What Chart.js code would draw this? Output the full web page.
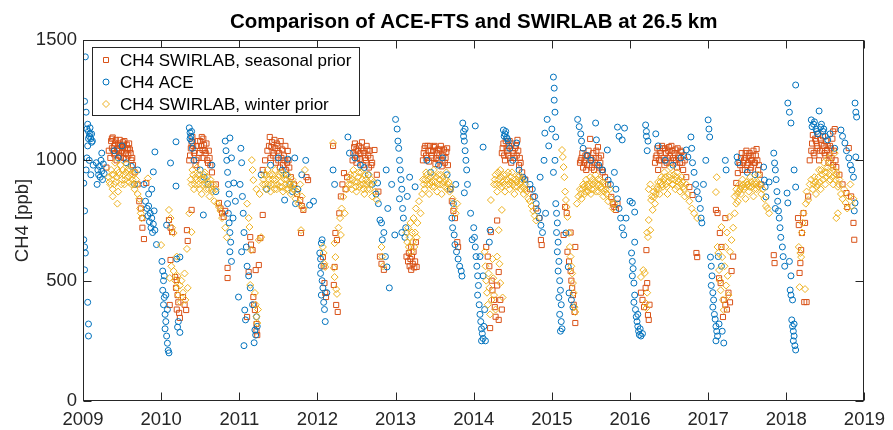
<!DOCTYPE html>
<html>
<head>
<meta charset="utf-8">
<script src="https://cdn.jsdelivr.net/npm/chart.js@4.4.1/dist/chart.umd.min.js"></script>
<style>
  html, body { margin: 0; padding: 0; background: #fff; }
  #wrap { width: 893px; height: 430px; }
</style>
</head>
<body>
<div id="wrap"><canvas id="c" width="893" height="430"></canvas></div>
<script>
// tick labels
const yearTicks = [2009, 2010, 2011, 2012, 2013, 2014, 2015, 2016, 2017, 2018, 2019];
const ppbTicks = [0, 500, 1000, 1500];

// [decimal year, CH4 ppb]
const aceFts = [
  [2009.03,1430],[2009.02,1245],[2009.04,1200],[2009.06,1150],[2009.07,1120],[2009.08,1100],[2009.09,1135],[2009.10,1090],[2009.11,1110],[2009.12,1080],[2009.06,1060],[2009.05,1010],[2009.04,960],[2009.08,1000],[2009.10,940],[2009.13,980],[2009.01,905],[2009.02,790],[2009.01,670],[2009.02,640],[2009.03,615],[2009.02,545],[2009.06,410],[2009.07,320],[2009.07,270],
  [2009.05,1130],[2009.07,1090],[2009.09,1110],[2009.11,1075],
  [2009.17,990],[2009.19,960],[2009.20,940],[2009.21,975],[2009.22,930],[2009.23,1000],[2009.24,955],[2009.25,920],[2009.26,985],[2009.27,945],[2009.18,900],[2009.24,1030],
  [2009.40,1040],[2009.45,1010],[2009.50,1060],[2009.55,990],[2009.62,975],[2009.70,960],[2009.66,900],
  [2009.78,900],[2009.80,830],[2009.82,800],[2009.83,770],[2009.84,810],[2009.84,860],[2009.85,745],[2009.86,780],[2009.87,720],[2009.88,760],[2009.88,880],[2009.89,700],[2009.90,735],[2009.90,952],[2009.91,790],[2009.92,710],[2009.92,1035],[2009.94,650],
  [2010.01,580],[2010.02,540],[2010.03,500],[2010.02,460],[2010.04,430],[2010.03,400],[2010.05,360],[2010.06,330],[2010.05,300],[2010.07,270],[2010.08,240],[2010.09,210],[2010.10,200],[2010.06,440],[2010.08,380],[2010.04,520],[2010.07,731],[2010.12,989],[2010.19,1077],[2010.19,893],[2010.20,590],[2010.22,330],[2010.24,285],[2010.21,307],[2010.24,598],
  [2010.36,1135],[2010.37,1115],[2010.38,1100],[2010.39,1080],[2010.37,1090],[2010.39,1120],[2010.40,1050],[2010.42,1000],[2010.50,960],[2010.55,930],[2010.54,773],[2010.60,900],[2010.65,980],[2010.70,870],
  [2010.82,1080],[2010.83,1040],[2010.84,1000],[2010.85,950],[2010.86,900],[2010.87,860],[2010.85,820],[2010.86,780],[2010.87,740],[2010.88,700],[2010.89,660],[2010.88,620],[2010.90,580],[2010.88,1093],[2010.90,1010],[2010.93,906],[2010.92,760],[2010.95,830],
  [2010.99,432],[2011.01,900],[2011.02,1050],[2011.03,990],[2011.04,850],[2011.05,780],[2011.06,700],[2011.03,620],[2011.07,378],[2011.08,337],[2011.06,230],[2011.09,640],[2011.10,560],[2011.12,520],[2011.14,470],[2011.17,400],[2011.20,295],[2011.21,274],[2011.19,242],[2011.22,350],[2011.23,310],
  [2011.28,940],[2011.35,880],[2011.40,980],[2011.50,1010],[2011.55,960],[2011.58,835],[2011.60,940],[2011.62,1005],[2011.65,900],[2011.68,870],[2011.71,1010],[2011.72,820],[2011.75,880],[2011.80,940],[2011.85,1000],[2011.90,814],[2011.95,830],
  [2012.03,615],[2012.04,590],[2012.05,560],[2012.04,530],[2012.06,500],[2012.07,470],[2012.05,440],[2012.08,410],[2012.09,380],[2012.10,330],[2012.06,670],[2012.05,656],[2012.12,450],
  [2012.20,960],[2012.22,900],[2012.39,1097],[2012.41,1030],[2012.48,1010],[2012.55,980],[2012.60,970],[2012.65,940],[2012.70,900],[2012.75,860],[2012.77,906],[2012.78,820],[2012.80,752],[2012.82,740],[2012.85,700],[2012.83,670],[2012.87,600],[2012.89,557],[2012.90,800],[2012.92,470],[2012.88,960],[2012.95,900],[2012.99,690],
  [2013.00,1170],[2013.02,1130],[2013.03,1080],[2013.04,1050],[2013.05,1000],[2013.06,960],[2013.07,920],[2013.08,880],[2013.05,840],[2013.09,800],[2013.10,760],[2013.08,700],[2013.12,680],[2013.13,720],[2013.15,850],[2013.18,930],[2013.25,890],
  [2013.40,1000],[2013.45,950],[2013.55,980],[2013.60,1010],[2013.66,940],[2013.70,880],[2013.72,760],[2013.73,720],[2013.75,690],[2013.76,650],[2013.78,620],[2013.80,590],[2013.82,560],[2013.84,540],[2013.85,519],[2013.74,820],[2013.77,900],[2013.86,1155],[2013.87,1120],[2013.87,1100],[2013.88,1080],[2013.89,1130],[2013.89,1040],[2013.90,1000],[2013.91,960],[2013.92,900],[2013.88,865],[2013.96,780],[2013.98,670],
  [2014.00,720],[2014.01,680],[2014.02,640],[2014.03,600],[2014.04,560],[2014.05,520],[2014.06,480],[2014.05,440],[2014.07,400],[2014.08,360],[2014.09,330],[2014.10,300],[2014.11,280],[2014.12,260],[2014.10,250],[2014.13,310],[2014.14,380],[2014.08,600],[2014.12,520],[2014.15,250],[2014.02,1143],[2014.12,1055],[2014.20,660],[2014.21,710],
  [2014.38,1126],[2014.39,1100],[2014.40,1110],[2014.41,1120],[2014.42,1095],[2014.43,1090],[2014.44,1080],[2014.46,1050],[2014.50,1000],[2014.55,1072],[2014.58,960],[2014.63,930],[2014.65,920],[2014.72,900],[2014.75,880],[2014.78,850],[2014.80,820],[2014.82,790],[2014.84,760],[2014.86,730],[2014.88,700],[2014.85,930],[2014.90,1000],[2014.91,1113],[2014.94,1170],[2014.96,1060],[2015.00,1130],[2014.92,780],
  [2015.02,1346],[2015.03,1300],[2015.03,1250],[2015.04,1200],[2015.05,1097],[2015.04,1000],[2015.02,950],[2015.05,820],[2015.06,780],[2015.07,740],[2015.06,700],[2015.08,660],[2015.07,620],[2015.09,580],[2015.08,540],[2015.10,500],[2015.11,460],[2015.09,430],[2015.12,400],[2015.10,360],[2015.12,330],[2015.13,300],[2015.11,290],[2015.22,449],[2015.25,420],[2015.27,390],[2015.18,698],[2015.21,557],
  [2015.33,1170],[2015.35,1140],[2015.37,1110],[2015.38,1080],[2015.40,1050],[2015.45,1020],[2015.50,1000],[2015.56,1155],[2015.57,1085],[2015.60,980],[2015.65,960],[2015.71,1043],[2015.72,918],[2015.75,900],[2015.80,950],[2015.84,1138],[2015.86,1100],[2015.90,1085],[2015.93,1134],[2015.82,880],[2015.84,840],[2015.86,800],[2015.88,760],[2015.90,720],[2015.92,690],[2015.95,760],[2016.00,830],[2016.03,823],[2016.06,785],
  [2016.02,615],[2016.03,580],[2016.04,550],[2016.03,520],[2016.05,490],[2016.06,440],[2016.05,410],[2016.07,380],[2016.08,350],[2016.09,330],[2016.10,310],[2016.11,290],[2016.12,275],[2016.13,300],[2016.14,270],[2016.10,360],[2016.16,280],[2016.06,660],[2016.20,1147],[2016.21,1100],[2016.21,1120],[2016.22,1040],[2016.23,1080],
  [2016.33,1110],[2016.36,1060],[2016.45,1000],[2016.55,980],[2016.65,1010],[2016.72,1043],[2016.74,1014],[2016.78,1097],[2016.79,1050],[2016.80,990],[2016.82,950],[2016.84,900],[2016.86,870],[2016.88,840],[2016.90,800],[2016.91,760],[2016.92,740],[2016.94,900],[2016.97,1000],[2017.00,1168],[2017.01,1130],[2017.02,1097],
  [2017.03,598],[2017.04,560],[2017.05,520],[2017.04,480],[2017.06,450],[2017.07,420],[2017.06,390],[2017.08,360],[2017.09,340],[2017.10,310],[2017.11,290],[2017.12,270],[2017.10,250],[2017.14,320],[2017.17,560],[2017.20,241],[2017.18,290],[2017.13,600],
  [2017.22,1000],[2017.23,960],[2017.37,1014],[2017.38,990],[2017.50,950],[2017.60,940],[2017.71,972],[2017.72,918],[2017.73,889],[2017.74,848],[2017.78,910],[2017.84,1030],[2017.85,989],[2017.86,960],[2017.87,920],[2017.88,870],[2017.89,830],[2017.90,790],[2017.91,760],[2017.92,720],[2017.93,680],[2017.95,640],[2017.96,600],[2017.98,560],[2017.86,800],
  [2018.02,1238],[2018.04,1200],[2018.06,1155],[2018.12,1313],[2018.01,864],[2018.02,823],[2018.10,960],[2018.12,889],[2018.05,461],[2018.06,440],[2018.08,420],[2018.07,337],[2018.08,310],[2018.09,290],[2018.10,270],[2018.09,250],[2018.11,230],[2018.12,212],[2018.10,320],[2018.06,520],[2018.04,580],
  [2018.32,1168],[2018.33,1140],[2018.35,1150],[2018.36,1160],[2018.38,1130],[2018.39,1120],[2018.40,1110],[2018.42,1205],[2018.44,1138],[2018.45,1150],[2018.47,1120],[2018.48,1130],[2018.50,1100],[2018.53,1085],[2018.56,1110],[2018.62,1050],[2018.70,1126],[2018.72,1100],[2018.75,1072],[2018.77,1040],[2018.80,1010],[2018.82,980],[2018.84,960],[2018.86,930],[2018.88,1238],[2018.89,1200],[2018.90,1180],[2018.89,1014],[2018.88,823],[2018.87,790]
];

const swirSeasonal = [
  [2009.30,970],[2009.33,1040],[2009.36,1080],[2009.37,1050],[2009.38,1095],[2009.40,1060],[2009.41,1030],[2009.42,1085],[2009.44,1045],[2009.45,1070],[2009.46,1020],[2009.48,1060],[2009.50,1040],[2009.51,1075],[2009.52,1010],[2009.54,1050],[2009.55,1030],[2009.56,1065],[2009.58,1020],[2009.60,1045],[2009.62,1000],[2009.64,980],[2009.66,950],[2009.70,900],[2009.72,830],[2009.74,800],[2009.76,760],[2009.76,720],[2009.78,673],[2009.81,906],
  [2009.35,1010],[2009.37,1090],[2009.39,1040],[2009.41,1070],[2009.43,1000],[2009.45,1050],[2009.47,1085],[2009.49,1030],[2009.51,1055],[2009.53,1080],[2009.55,1005],[2009.57,1045],[2009.59,1070],[2009.61,1030],[2009.63,1010],[2009.40,1025],[2009.46,1040],[2009.52,1065],[2009.58,1050],[2009.48,1015],
  [2010.10,752],[2010.12,720],[2010.14,702],[2010.12,586],[2010.18,515],[2010.20,503],[2010.19,470],[2010.21,440],[2010.22,410],[2010.20,380],[2010.23,366],[2010.11,399],[2010.24,345],[2010.28,432],[2010.30,400],[2010.32,378],[2010.33,710],[2010.34,665],[2010.39,794],
  [2010.36,1000],[2010.38,1050],[2010.40,1097],[2010.42,1030],[2010.44,980],[2010.46,1060],[2010.48,1010],[2010.50,1080],[2010.52,1097],[2010.53,1043],[2010.55,1064],[2010.57,1030],[2010.60,989],[2010.62,1010],[2010.65,950],[2010.70,900],[2010.74,823],[2010.76,800],[2010.78,780],[2010.80,765],[2010.82,790],[2010.85,553],[2010.85,511],
  [2010.37,1020],[2010.39,1070],[2010.41,1060],[2010.43,1040],[2010.45,1000],[2010.47,1080],[2010.49,1030],[2010.51,1060],[2010.53,1010],[2010.54,1090],[2010.56,1040],[2010.58,1070],[2010.59,1000],[2010.61,1040],[2010.63,980],
  [2011.10,349],[2011.12,536],[2011.14,681],[2011.15,650],[2011.17,627],[2011.18,432],[2011.19,400],[2011.20,378],[2011.21,544],[2011.22,320],[2011.23,274],[2011.22,290],[2011.25,565],[2011.27,677],[2011.30,773],
  [2011.30,960],[2011.33,1000],[2011.36,1040],[2011.39,1097],[2011.41,1055],[2011.43,1020],[2011.45,1085],[2011.47,990],[2011.49,1040],[2011.50,1060],[2011.52,970],[2011.54,1010],[2011.56,980],[2011.58,1000],[2011.60,960],[2011.62,1039],[2011.66,930],[2011.70,900],[2011.74,860],[2011.78,835],[2011.80,810],[2011.82,794],[2011.79,698],[2011.86,930],[2011.88,918],
  [2011.38,1060],[2011.40,1010],[2011.42,1075],[2011.44,1030],[2011.46,1050],[2011.48,1070],[2011.50,1000],[2011.51,1030],[2011.53,1080],[2011.55,1045],[2011.57,1020],[2011.59,1060],[2011.61,990],[2011.63,1000],[2011.64,970],
  [2012.07,598],[2012.08,560],[2012.09,490],[2012.10,449],[2012.11,432],[2012.20,1060],[2012.21,482],[2012.22,557],[2012.24,399],[2012.26,370],[2012.23,698],[2012.25,669],[2012.28,780],[2012.30,850],[2012.32,900],[2012.34,947],[2012.36,880],[2012.38,930],
  [2012.45,1000],[2012.47,1055],[2012.49,1020],[2012.50,990],[2012.52,1040],[2012.54,1005],[2012.56,1050],[2012.58,980],[2012.60,1030],[2012.62,1000],[2012.64,1045],[2012.66,970],[2012.68,1010],[2012.70,990],[2012.73,1043],[2012.76,940],[2012.78,870],[2012.80,600],[2012.82,570],[2012.85,545],
  [2012.46,1030],[2012.48,1070],[2012.50,1045],[2012.51,1010],[2012.53,1060],[2012.55,1030],[2012.57,1075],[2012.59,1040],[2012.61,1010],[2012.63,1060],[2012.65,1020],[2012.67,1040],[2012.69,980],
  [2013.14,600],[2013.16,580],[2013.17,615],[2013.18,560],[2013.19,590],[2013.20,545],[2013.21,600],[2013.22,570],[2013.23,620],[2013.24,555],[2013.25,580],[2013.27,557],[2013.20,640],[2013.26,660],
  [2013.35,1000],[2013.37,1050],[2013.39,1020],[2013.41,1060],[2013.43,995],[2013.45,1040],[2013.47,1010],[2013.49,1055],[2013.51,985],[2013.53,1030],[2013.55,1000],[2013.57,1045],[2013.59,975],[2013.61,1020],[2013.63,990],[2013.65,1035],[2013.67,980],[2013.70,880],[2013.72,830],[2013.74,790],[2013.76,760],[2013.79,660],[2013.80,640],
  [2013.36,1030],[2013.38,1060],[2013.40,1010],[2013.42,1040],[2013.44,1060],[2013.46,1020],[2013.48,1040],[2013.50,1060],[2013.52,1010],[2013.54,1045],[2013.56,1020],[2013.58,1060],[2013.60,1000],[2013.62,1045],[2013.64,1010],[2013.66,1050],
  [2014.16,640],[2014.18,600],[2014.20,560],[2014.21,303],[2014.22,702],[2014.23,500],[2014.24,460],[2014.26,420],[2014.27,390],[2014.28,350],[2014.30,480],[2014.32,337],[2014.32,536],[2014.34,420],[2014.36,380],[2014.30,750],
  [2014.36,1030],[2014.38,1070],[2014.40,1000],[2014.42,1050],[2014.44,1020],[2014.46,1080],[2014.48,990],[2014.50,1040],[2014.52,1010],[2014.54,1060],[2014.56,1085],[2014.58,980],[2014.62,950],[2014.66,920],[2014.72,880],[2014.76,848],[2014.80,800],[2014.84,760],[2014.86,669],[2014.87,648],
  [2014.37,1050],[2014.39,1020],[2014.41,1080],[2014.43,1040],[2014.45,1060],[2014.47,1010],[2014.49,1070],[2014.51,1030],[2014.53,1050],[2014.55,1020],[2014.57,1040],[2014.59,1010],[2014.60,990],
  [2015.15,690],[2015.17,806],[2015.19,781],[2015.20,620],[2015.22,580],[2015.24,540],[2015.25,500],[2015.26,470],[2015.27,440],[2015.28,400],[2015.29,370],[2015.30,324],[2015.30,640],[2015.24,700],
  [2015.36,990],[2015.38,1010],[2015.40,970],[2015.42,1000],[2015.44,960],[2015.46,1020],[2015.48,980],[2015.49,1089],[2015.52,1000],[2015.54,960],[2015.56,1010],[2015.58,980],[2015.59,1055],[2015.62,990],[2015.65,950],[2015.68,930],[2015.72,900],[2015.76,848],[2015.78,820],[2015.80,806],[2015.82,794],[2015.84,820],
  [2015.37,1000],[2015.39,1030],[2015.41,990],[2015.43,1020],[2015.45,980],[2015.47,1040],[2015.50,1010],[2015.51,970],[2015.53,1030],[2015.55,990],[2015.57,1040],[2015.60,1010],[2015.61,970],[2015.63,1020],[2015.64,960],
  [2016.14,450],[2016.16,420],[2016.18,390],[2016.20,470],[2016.21,627],[2016.22,490],[2016.23,357],[2016.24,337],[2016.25,400],
  [2016.32,990],[2016.34,1020],[2016.36,960],[2016.38,1040],[2016.40,1000],[2016.42,1050],[2016.44,980],[2016.46,1030],[2016.48,1010],[2016.50,1055],[2016.52,990],[2016.54,1040],[2016.56,1000],[2016.58,1045],[2016.60,970],[2016.62,1020],[2016.64,990],[2016.66,1035],[2016.68,960],[2016.70,1000],[2016.72,930],[2016.76,889],[2016.80,856],[2016.85,615],[2016.86,598],
  [2016.33,1010],[2016.35,1050],[2016.37,1000],[2016.39,1030],[2016.41,1060],[2016.43,1010],[2016.45,1050],[2016.47,990],[2016.49,1040],[2016.51,1020],[2016.53,1060],[2016.55,1010],[2016.57,1030],[2016.59,1000],[2016.61,1050],[2016.63,1010],[2016.65,1040],[2016.67,990],[2016.69,1020],
  [2017.10,794],[2017.12,781],[2017.15,698],[2017.17,640],[2017.14,510],[2017.16,490],[2017.19,349],[2017.20,420],[2017.22,400],[2017.24,380],[2017.26,450],[2017.28,410],[2017.30,540],[2017.32,600],[2017.22,760],
  [2017.36,906],[2017.38,947],[2017.40,990],[2017.42,1010],[2017.44,960],[2017.46,1000],[2017.48,1030],[2017.50,980],[2017.52,1018],[2017.54,960],[2017.56,1001],[2017.58,1040],[2017.60,990],[2017.62,1047],[2017.64,960],[2017.66,940],[2017.68,900],[2017.84,606],[2017.85,573],
  [2017.41,980],[2017.43,1030],[2017.45,990],[2017.47,1010],[2017.49,1040],[2017.51,990],[2017.53,1030],[2017.55,1000],[2017.57,1020],[2017.59,990],[2017.61,1020],[2017.63,1000],[2017.65,980],[2017.47,960],[2017.55,970],
  [2018.15,760],[2018.16,731],[2018.17,532],[2018.18,573],[2018.19,627],[2018.20,698],[2018.22,781],[2018.23,411],[2018.26,411],[2018.24,740],[2018.28,850],
  [2018.30,1000],[2018.32,1040],[2018.34,1105],[2018.36,1020],[2018.38,1080],[2018.40,1050],[2018.42,1000],[2018.44,1085],[2018.46,1040],[2018.48,1060],[2018.50,1020],[2018.52,1043],[2018.54,990],[2018.56,1060],[2018.58,1010],[2018.60,980],[2018.62,1130],[2018.64,972],[2018.68,940],[2018.72,900],[2018.77,864],[2018.78,806],[2018.80,1051],[2018.83,850],[2018.86,740],[2018.87,670],
  [2018.33,1070],[2018.35,1030],[2018.37,1090],[2018.39,1060],[2018.41,1110],[2018.43,1040],[2018.45,1070],[2018.47,1100],[2018.49,1030],[2018.51,1080],[2018.53,1060],[2018.55,1020],[2018.57,1050],[2018.59,1090],[2018.61,1040],[2018.63,1000],[2018.60,1120]
];

const swirWinter = [
  [2009.33,930],[2009.35,900],[2009.36,960],[2009.38,880],[2009.38,850],[2009.39,940],[2009.41,990],[2009.42,910],[2009.44,960],[2009.44,820],[2009.45,870],[2009.47,940],[2009.48,980],[2009.50,920],[2009.51,960],[2009.53,900],[2009.55,950],[2009.56,985],[2009.58,930],[2009.60,960],[2009.62,900],[2009.64,940],[2009.66,880],[2009.68,920],[2009.70,860],[2009.72,840],[2009.73,800],[2009.74,780],[2009.75,760],[2009.83,925],
  [2009.34,910],[2009.37,940],[2009.40,900],[2009.43,930],[2009.46,950],[2009.49,900],[2009.52,940],[2009.54,920],[2009.57,960],[2009.59,910],[2009.61,940],[2009.63,920],[2009.65,900],[2009.67,950],[2009.69,900],
  [2010.00,648],[2010.10,794],[2010.12,760],[2010.14,720],[2010.16,698],[2010.11,511],[2010.13,560],[2010.16,540],[2010.18,500],[2010.20,470],[2010.21,520],[2010.22,440],[2010.24,480],[2010.25,410],[2010.26,500],[2010.28,450],[2010.30,530],[2010.31,420],[2010.33,632],[2010.34,470],[2010.39,702],[2010.36,780],[2010.20,600],
  [2010.38,920],[2010.40,960],[2010.42,880],[2010.44,930],[2010.46,970],[2010.48,900],[2010.50,940],[2010.52,860],[2010.54,920],[2010.56,950],[2010.58,880],[2010.60,910],[2010.62,850],[2010.64,900],[2010.66,870],[2010.68,830],[2010.70,880],[2010.72,820],[2010.74,806],[2010.76,790],[2010.78,760],[2010.82,720],[2010.84,680],
  [2010.39,900],[2010.41,940],[2010.43,900],[2010.45,920],[2010.47,940],[2010.49,880],[2010.51,920],[2010.53,900],[2010.55,940],[2010.57,900],[2010.59,930],[2010.61,880],[2010.63,920],[2010.65,880],[2010.67,900],
  [2011.10,820],[2011.12,760],[2011.13,723],[2011.14,482],[2011.15,627],[2011.16,1001],[2011.17,960],[2011.18,918],[2011.20,449],[2011.21,400],[2011.22,350],[2011.23,324],[2011.24,380],[2011.25,669],[2011.28,681],[2011.26,860],[2011.22,880],
  [2011.30,900],[2011.32,940],[2011.34,880],[2011.36,960],[2011.38,920],[2011.40,870],[2011.42,940],[2011.44,900],[2011.46,960],[2011.48,880],[2011.50,930],[2011.52,890],[2011.54,950],[2011.56,870],[2011.58,920],[2011.60,880],[2011.62,940],[2011.64,900],[2011.66,860],[2011.68,920],[2011.70,880],[2011.72,840],[2011.74,870],[2011.76,820],[2011.78,900],[2011.80,850],[2011.82,800],[2011.84,960],[2011.79,710],
  [2011.31,920],[2011.33,900],[2011.35,940],[2011.37,900],[2011.39,940],[2011.41,900],[2011.43,920],[2011.45,880],[2011.47,920],[2011.49,900],[2011.51,940],[2011.53,910],[2011.55,890],[2011.57,940],[2011.59,900],[2011.61,920],[2011.63,880],[2011.65,910],[2011.67,890],[2011.69,900],
  [2012.07,640],[2012.08,615],[2012.09,570],[2012.10,557],[2012.20,1072],[2012.21,553],[2012.22,515],[2012.23,598],[2012.24,465],[2012.25,445],[2012.22,656],[2012.27,720],[2012.29,760],[2012.31,800],[2012.33,848],[2012.35,780],[2012.37,880],[2012.30,690],
  [2012.40,900],[2012.42,940],[2012.44,880],[2012.46,960],[2012.48,910],[2012.50,870],[2012.52,930],[2012.54,890],[2012.56,950],[2012.58,900],[2012.60,860],[2012.62,920],[2012.64,880],[2012.66,940],[2012.68,900],[2012.70,850],[2012.72,910],[2012.74,870],[2012.76,835],[2012.82,640],[2012.83,600],[2012.84,560],
  [2012.41,920],[2012.43,900],[2012.45,920],[2012.47,940],[2012.49,890],[2012.51,910],[2012.53,950],[2012.55,900],[2012.57,920],[2012.59,880],[2012.61,940],[2012.63,900],[2012.65,910],[2012.67,880],[2012.69,920],
  [2013.14,700],[2013.15,660],[2013.16,720],[2013.17,640],[2013.18,680],[2013.19,740],[2013.20,620],[2013.21,700],[2013.22,660],[2013.23,760],[2013.24,640],[2013.25,700],[2013.26,800],[2013.27,680],[2013.28,740],[2013.30,830],[2013.32,780],[2013.34,860],
  [2013.35,920],[2013.37,880],[2013.39,950],[2013.41,900],[2013.43,860],[2013.45,930],[2013.47,890],[2013.49,960],[2013.51,910],[2013.53,870],[2013.55,940],[2013.57,900],[2013.59,860],[2013.61,930],[2013.63,890],[2013.65,950],[2013.67,900],[2013.69,870],[2013.71,890],[2013.73,840],[2013.75,800],[2013.77,780],[2013.79,820],
  [2013.36,900],[2013.38,920],[2013.40,940],[2013.42,920],[2013.44,900],[2013.46,910],[2013.48,940],[2013.50,890],[2013.52,930],[2013.54,900],[2013.56,920],[2013.58,940],[2013.60,900],[2013.62,910],[2013.64,920],[2013.66,880],[2013.68,910],
  [2014.14,620],[2014.15,560],[2014.16,500],[2014.17,450],[2014.18,400],[2014.19,530],[2014.20,470],[2014.21,360],[2014.22,835],[2014.23,420],[2014.24,590],[2014.25,510],[2014.26,440],[2014.28,380],[2014.30,600],[2014.32,710],[2014.33,570],[2014.34,490],[2014.36,794],[2014.37,430],
  [2014.26,900],[2014.28,940],[2014.30,870],[2014.32,920],[2014.34,960],[2014.36,890],[2014.38,940],[2014.40,870],[2014.42,910],[2014.44,950],[2014.46,880],[2014.48,930],[2014.50,900],[2014.52,860],[2014.54,920],[2014.56,890],[2014.58,940],[2014.60,880],[2014.62,920],[2014.64,860],[2014.66,900],[2014.68,870],[2014.70,840],[2014.72,830],[2014.74,810],[2014.76,790],[2014.78,770],[2014.80,750],
  [2014.27,920],[2014.29,900],[2014.31,950],[2014.33,900],[2014.35,930],[2014.37,910],[2014.39,900],[2014.41,940],[2014.43,920],[2014.45,900],[2014.47,910],[2014.49,950],[2014.51,920],[2014.53,890],[2014.55,910],[2014.57,930],[2014.59,900],[2014.61,910],[2014.63,890],[2014.65,880],
  [2015.13,1043],[2015.14,1014],[2015.15,972],[2015.16,930],[2015.17,870],[2015.18,835],[2015.19,806],[2015.20,765],[2015.22,698],[2015.23,640],[2015.24,600],[2015.25,560],[2015.26,530],[2015.27,490],[2015.28,449],[2015.29,390],[2015.30,370],
  [2015.32,820],[2015.34,850],[2015.36,880],[2015.38,840],[2015.40,900],[2015.42,860],[2015.44,920],[2015.46,870],[2015.48,900],[2015.50,860],[2015.52,920],[2015.54,880],[2015.56,940],[2015.58,900],[2015.60,870],[2015.62,920],[2015.64,880],[2015.66,850],[2015.68,900],[2015.70,860],[2015.72,830],[2015.74,880],[2015.76,840],[2015.78,800],[2015.80,820],
  [2015.37,860],[2015.39,880],[2015.41,890],[2015.43,870],[2015.45,900],[2015.47,890],[2015.49,930],[2015.51,880],[2015.53,900],[2015.55,910],[2015.57,870],[2015.59,920],[2015.61,900],[2015.63,890],[2015.65,910],[2015.67,870],[2015.69,880],
  [2016.14,515],[2016.17,544],[2016.19,532],[2016.20,407],[2016.21,386],[2016.22,700],[2016.23,681],[2016.24,752],[2016.26,710],[2016.27,835],[2016.29,794],[2016.31,848],[2016.22,450],
  [2016.24,880],[2016.26,900],[2016.28,850],[2016.30,870],[2016.32,820],[2016.34,880],[2016.36,910],[2016.38,860],[2016.40,930],[2016.42,890],[2016.44,950],[2016.46,900],[2016.48,860],[2016.50,930],[2016.52,970],[2016.54,900],[2016.56,940],[2016.58,880],[2016.60,950],[2016.62,910],[2016.64,870],[2016.66,930],[2016.68,890],[2016.70,850],[2016.72,900],[2016.74,860],[2016.76,830],[2016.79,800],[2016.82,780],[2016.86,760],
  [2016.33,860],[2016.35,890],[2016.37,880],[2016.39,910],[2016.41,900],[2016.43,920],[2016.45,930],[2016.47,890],[2016.49,910],[2016.51,940],[2016.53,920],[2016.55,900],[2016.57,920],[2016.59,930],[2016.61,890],[2016.63,920],[2016.65,900],[2016.67,910],[2016.69,880],
  [2017.10,868],[2017.11,930],[2017.12,640],[2017.13,615],[2017.14,544],[2017.15,500],[2017.16,460],[2017.17,723],[2017.18,598],[2017.19,420],[2017.20,378],[2017.21,560],[2017.22,640],[2017.23,480],[2017.24,700],[2017.25,520],[2017.26,440],[2017.27,765],[2017.28,620],[2017.30,669],[2017.32,720],[2017.34,780],[2017.36,820],
  [2017.34,850],[2017.36,880],[2017.38,830],[2017.40,900],[2017.42,860],[2017.44,920],[2017.46,880],[2017.48,840],[2017.50,900],[2017.52,870],[2017.54,930],[2017.56,890],[2017.58,850],[2017.60,910],[2017.62,880],[2017.64,940],[2017.66,900],[2017.68,860],[2017.70,880],[2017.72,840],[2017.74,810],[2017.76,800],[2017.78,780],
  [2017.37,860],[2017.39,870],[2017.41,880],[2017.43,890],[2017.45,900],[2017.47,890],[2017.49,910],[2017.51,900],[2017.53,890],[2017.55,910],[2017.57,900],[2017.59,880],[2017.61,900],[2017.63,910],[2017.65,890],
  [2018.16,640],[2018.17,473],[2018.18,615],[2018.19,598],[2018.20,700],[2018.21,740],[2018.22,780],[2018.24,465],[2018.25,820],[2018.26,870],[2018.28,835],[2018.30,900],[2018.32,920],
  [2018.34,880],[2018.36,930],[2018.38,860],[2018.40,900],[2018.42,960],[2018.44,880],[2018.46,940],[2018.48,990],[2018.50,900],[2018.52,950],[2018.54,1010],[2018.56,920],[2018.58,970],[2018.60,900],[2018.62,1030],[2018.64,940],[2018.64,760],[2018.66,890],[2018.66,780],[2018.68,920],[2018.70,860],[2018.72,840],[2018.74,880],[2018.76,823],[2018.78,800],[2018.80,850],[2018.82,900],[2018.84,810],[2018.86,840],
  [2018.35,900],[2018.37,910],[2018.39,890],[2018.41,930],[2018.43,910],[2018.45,960],[2018.47,920],[2018.49,950],[2018.51,930],[2018.53,970],[2018.55,940],[2018.57,990],[2018.59,930],[2018.61,960],[2018.63,920],[2018.65,950],[2018.67,900]
];

const BLUE = '#0072BD', ORANGE = '#D95319', YELLOW = '#EDB120', AXIS = '#262626';
const FONT = '"Liberation Sans", Arial, Helvetica, sans-serif';

const toXY = arr => arr.map(([t, v]) => ({ x: t, y: v }));

// axes box, inside ticks, title, y label and the legend
const matlabFrame = {
  id: 'matlabFrame',
  afterDatasetsDraw(chart) {
    const { ctx, chartArea: a, scales } = chart;
    const L = Math.round(a.left) + 0.5, R = Math.round(a.right) - 0.5;
    const T = Math.round(a.top) + 0.5, B = Math.round(a.bottom) - 0.5;
    ctx.save();
    ctx.strokeStyle = AXIS;
    ctx.lineWidth = 1;
    ctx.strokeRect(L, T, R - L, B - T);
    const tl = 8;
    ctx.beginPath();
    yearTicks.forEach(v => {
      const px = Math.round(scales.x.getPixelForValue(v)) + 0.5;
      ctx.moveTo(px, B); ctx.lineTo(px, B - tl);
      ctx.moveTo(px, T); ctx.lineTo(px, T + tl);
    });
    ppbTicks.forEach(v => {
      const py = Math.round(scales.y.getPixelForValue(v)) + 0.5;
      ctx.moveTo(L, py); ctx.lineTo(L + tl, py);
      ctx.moveTo(R, py); ctx.lineTo(R - tl, py);
    });
    ctx.stroke();

    // legend
    const bx = 92, by = 47, bw = 267, bh = 68;
    ctx.fillStyle = '#fff';
    ctx.fillRect(bx, by, bw, bh);
    ctx.strokeStyle = AXIS;
    ctx.strokeRect(bx + 0.5, by + 0.5, bw, bh);
    const rows = [
      { label: 'CH4 SWIRLAB, seasonal prior', color: ORANGE, shape: 'rect', y: 60 },
      { label: 'CH4 ACE', color: BLUE, shape: 'circle', y: 82 },
      { label: 'CH4 SWIRLAB, winter prior', color: YELLOW, shape: 'diamond', y: 104 }
    ];
    ctx.font = '17px ' + FONT;
    ctx.textBaseline = 'middle';
    ctx.textAlign = 'left';
    rows.forEach(r => {
      const mx = 106;
      ctx.strokeStyle = r.color;
      ctx.beginPath();
      if (r.shape === 'rect') ctx.rect(mx - 2.5, r.y - 2.5, 5, 5);
      else if (r.shape === 'circle') ctx.arc(mx, r.y, 3, 0, Math.PI * 2);
      else { ctx.moveTo(mx, r.y - 3.5); ctx.lineTo(mx + 3.5, r.y); ctx.lineTo(mx, r.y + 3.5); ctx.lineTo(mx - 3.5, r.y); ctx.closePath(); }
      ctx.stroke();
      ctx.fillStyle = '#000';
      ctx.fillText(r.label, 120, r.y + 1);
    });
    ctx.restore();
  },
  afterDraw(chart) {
    const { ctx, chartArea: a } = chart;
    ctx.save();
    ctx.fillStyle = '#000';
    ctx.font = 'bold 20.5px ' + FONT;
    ctx.textAlign = 'center';
    ctx.textBaseline = 'alphabetic';
    ctx.fillText('Comparison of ACE-FTS and SWIRLAB at 26.5 km', (a.left + a.right) / 2, 28);
    ctx.translate(28, (a.top + a.bottom) / 2);
    ctx.rotate(-Math.PI / 2);
    ctx.fillStyle = AXIS;
    ctx.font = '18.5px ' + FONT;
    ctx.fillText('CH4 [ppb]', 0, 0);
    ctx.restore();
  }
};

const series = (label, data, color, style, radius, order) => ({
  label, data: toXY(data), order,
  pointStyle: style, pointRadius: radius,
  borderColor: color, backgroundColor: 'rgba(0,0,0,0)',
  pointBorderWidth: 1, showLine: false
});

new Chart(document.getElementById('c'), {
  type: 'scatter',
  data: {
    datasets: [
      series('CH4 SWIRLAB, seasonal prior', swirSeasonal, ORANGE, 'rect', 3.6, 3),
      series('CH4 ACE', aceFts, BLUE, 'circle', 3, 2),
      series('CH4 SWIRLAB, winter prior', swirWinter, YELLOW, 'rectRot', 3.5, 1)
    ]
  },
  options: {
    responsive: false,
    animation: false,
    events: [],
    layout: { padding: { top: 40, right: 21, left: 0, bottom: 0 } },
    plugins: { legend: { display: false }, tooltip: { enabled: false }, title: { display: false } },
    scales: {
      x: {
        type: 'linear', min: 2009, max: 2019,
        afterFit: s => { s.height = 29; },
        afterBuildTicks: s => { s.ticks = yearTicks.map(v => ({ value: v })); },
        grid: { display: false, drawTicks: false },
        border: { display: false },
        ticks: { padding: 8, color: AXIS, font: { family: FONT, size: 18.5 }, callback: v => String(v), maxRotation: 0, autoSkip: false }
      },
      y: {
        min: 0, max: 1500,
        afterFit: s => { s.width = 83; },
        afterBuildTicks: s => { s.ticks = ppbTicks.map(v => ({ value: v })); },
        grid: { display: false, drawTicks: false },
        border: { display: false },
        ticks: { padding: 6, color: AXIS, font: { family: FONT, size: 18.5 }, callback: v => String(v) }
      }
    }
  },
  plugins: [matlabFrame]
});
</script>
</body>
</html>
